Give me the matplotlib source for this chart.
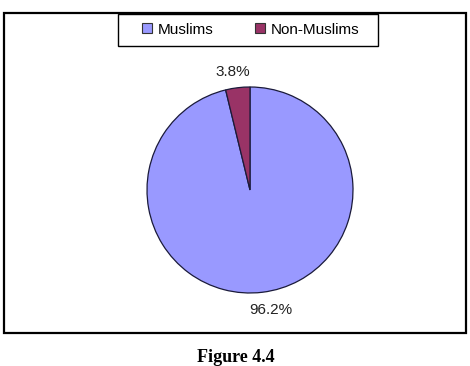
import matplotlib
matplotlib.use("Agg")
import matplotlib.pyplot as plt
from matplotlib.patches import Rectangle

categories = ["Muslims", "Non-Muslims"]
values = [96.2, 3.8]
colors = ["#9999FF", "#993366"]
caption = "Figure 4.4"

W, H = 470, 366
fig = plt.figure(figsize=(W / 100, H / 100), dpi=100)
plt.rcParams['font.family'] = ['Liberation Sans', 'DejaVu Sans']

def fx(px):
    return px / W

def fy(py):
    return 1 - py / H

# outer chart frame
fig.patches.append(Rectangle((fx(3.5), fy(333)), fx(466) - fx(3.5), fy(13) - fy(333),
                             transform=fig.transFigure, fill=False,
                             edgecolor="black", linewidth=1.6, zorder=0))

# pie axes
cx, cy, r = 250, 190, 103
ax = fig.add_axes([fx(cx - r), fy(cy + r), 2 * r / W, 2 * r / H])
wedges, texts, autotexts = ax.pie(values, colors=colors, startangle=90, counterclock=False,
                                  autopct="%.1f%%", pctdistance=1.17,
                                  wedgeprops=dict(edgecolor="#1a1a3a", linewidth=0.9),
                                  textprops=dict(fontsize=11, color="#222222"))
autotexts[0].set_position((0.20, -1.165))
autotexts[1].set_position((-0.17, 1.15))
ax.set_xlim(-1, 1)
ax.set_ylim(-1, 1)
ax.set_aspect("auto")
ax.axis("off")
for w in wedges:
    w.set_clip_on(False)

# legend box
fig.patches.append(Rectangle((fx(118), fy(45.5)), fx(378) - fx(118), fy(13.5) - fy(45.5),
                             transform=fig.transFigure, fill=True, facecolor="white",
                             edgecolor="black", linewidth=1.0, zorder=1))
leg = fig.legend(wedges, categories, loc="center", bbox_to_anchor=(fx(250.5), fy(29.5)),
                 ncol=2, frameon=False,
                 fontsize=11, handlelength=0.68, handleheight=0.68, columnspacing=2.75,
                 handletextpad=0.33, borderpad=0.3)
leg.set_zorder(2)
for h in leg.legend_handles:
    h.set_edgecolor("#333333")
    h.set_linewidth(0.8)

fig.text(fx(236), fy(358), caption, ha="center", va="center",
         fontsize=13, fontweight="bold", family=["Liberation Serif", "DejaVu Serif"])

fig.savefig("out.png", dpi=100, facecolor="white")
